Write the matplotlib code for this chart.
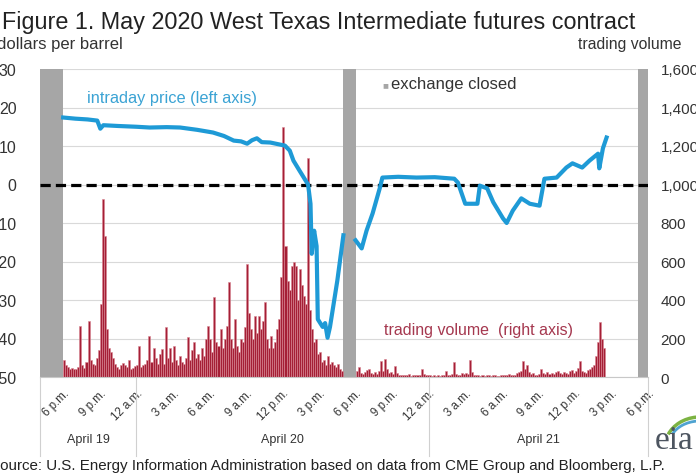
import matplotlib
matplotlib.use("Agg")
import matplotlib.pyplot as plt
import matplotlib.transforms as mtransforms
from matplotlib.patches import Arc
import numpy as np

plt.rcParams['font.family'] = ['Liberation Sans', 'DejaVu Sans']
plt.rcParams['axes.unicode_minus'] = False

# hours counted from April 19, 00:00
price_hours = [18.0, 19.0, 20.0, 20.8, 21.05, 21.3, 22.5, 24.0, 25.1, 26.5, 27.6, 29.0,
               30.3, 31.2, 32.0, 32.6, 33.1, 33.5, 33.9, 34.3, 35.0, 35.6, 36.2, 36.6,
               36.9, 37.4, 38.1, 38.3, 38.4, 38.6, 38.8, 38.9, 39.3, 39.5, 39.7, 39.9,
               40.5, 41.0, 41.5, 42.0, 42.5, 42.9, 43.4, 44.0, 44.2, 45.5, 47.0, 48.5,
               50.1, 50.4, 51.0, 52.0, 52.2, 52.8, 53.3, 54.1, 54.4, 54.9, 55.6, 56.3,
               57.1, 57.5, 58.5, 59.3, 59.8, 60.6, 61.2, 61.9, 62.0, 62.3, 62.6]
price = [17.4, 17.1, 16.9, 16.6, 14.5, 15.4, 15.2, 15.0, 14.8, 14.9, 14.8, 14.2,
         13.5, 12.6, 11.4, 11.2, 10.6, 11.5, 12.0, 11.0, 10.9, 10.5, 10.1, 8.8,
         6.2, 3.6, 0.0, -5.0, -18.0, -12.0, -16.0, -35.0, -37.0, -36.0, -39.8, -37.0,
         -25.0, -13.2, np.nan, -14.5, -16.6, -12.0, -7.5, -0.8, 1.8, 2.0, 1.8, 1.9,
         1.5, 0.5, -5.0, -5.0, -0.3, -1.0, -4.6, -8.8, -10.0, -6.8, -3.6, -5.0,
         -5.5, 1.5, 1.8, 4.4, 5.5, 4.4, 6.2, 8.0, 4.2, 9.4, 12.2]

# trading volume, 10-minute buckets, one row per hour
vol_start_1 = 18.0   # 6 p.m. April 19 to 5 p.m. April 20
vol_session_1 = [
    90, 60, 50, 40, 45, 40,
    40, 50, 265, 60, 45, 80,
    290, 90, 70, 60, 100, 140,
    380, 925, 730, 250, 150, 130,
    100, 70, 50, 40, 60, 75,
    60, 50, 90, 40, 45, 55,
    60, 160, 50, 60, 70, 90,
    213, 80, 150, 100, 70, 120,
    145, 70, 260, 100, 150, 80,
    160, 90, 60, 110, 80, 70,
    100, 208, 90, 140, 180, 100,
    120, 90, 150, 110, 200, 265,
    200, 130, 415, 180, 160, 250,
    150, 200, 265, 493, 200, 150,
    300, 160, 130, 200, 180, 260,
    587, 330, 250, 200, 317, 230,
    317, 250, 290, 390, 200, 150,
    213, 150, 180, 250, 300, 520,
    1300, 680, 500, 450, 577, 600,
    577, 400, 561, 480, 420, 380,
    1140, 350, 250, 180, 200, 120,
    130, 80, 90, 60, 110, 70,
    80, 60, 50, 70, 40, 30,
]
vol_start_2 = 42.0   # 6 p.m. April 20 onwards
vol_session_2 = [
    30, 52, 20, 15, 25, 35,
    42, 20, 15, 25, 18, 30,
    83, 30, 94, 40, 20, 25,
    15, 57, 20, 10, 12, 8,
    10, 8, 15, 6, 10, 8,
    12, 10, 42, 15, 8, 10,
    8, 6, 10, 5, 8, 6,
    10, 8, 31, 12, 10, 15,
    78, 15, 10, 12, 20, 15,
    20, 15, 88, 25, 12, 10,
    8, 6, 10, 5, 8, 10,
    6, 8, 10, 5, 6, 8,
    10, 8, 12, 15, 10, 8,
    12, 20, 25, 30, 83, 40,
    60, 25, 15, 20, 10, 12,
    15, 42, 20, 18, 25, 15,
    20, 15, 25, 30, 20, 15,
    25, 20, 15, 30, 35, 20,
    30, 45, 83, 30, 25, 20,
    35, 40, 50, 60, 110, 180,
    285, 200, 150,
]

closed_periods = [(16.1, 18.0), (41.0, 42.0), (65.15, 66.0)]
price_ticks = [30, 20, 10, 0, -10, -20, -30, -40, -50]
volume_ticks = [1600, 1400, 1200, 1000, 800, 600, 400, 200, 0]
tick_hours = list(range(18, 67, 3))
tick_names = ["6 p.m.", "9 p.m.", "12 a.m.", "3 a.m.", "6 a.m.", "9 a.m.", "12 p.m.", "3 p.m."]
day_names = ["April 19", "April 20", "April 21"]
day_centers = [20.05, 36.0, 57.0]
day_edges = [16.1, 24.0, 48.0, 66.0]

BLUE = "#1e9ad6"
RED = "#a51f36"
GREY = "#a6a6a6"

fig = plt.figure(figsize=(6.96, 4.77), dpi=100)
ax = fig.add_axes([40 / 696, 1 - 378 / 477, 608 / 696, 308 / 477])
ax2 = ax.twinx()

# volume bars (right axis)
w = 1 / 6
t1 = vol_start_1 + np.arange(len(vol_session_1)) * w
t2 = vol_start_2 + np.arange(len(vol_session_2)) * w
ax.bar(t1, vol_session_1, width=w, align='edge', color=RED, edgecolor="#d98894",
       linewidth=0.4, zorder=2)
ax.bar(t2, vol_session_2, width=w, align='edge', color=RED, edgecolor="#d98894",
       linewidth=0.4, zorder=2)
for a, b in closed_periods:
    ax.axvspan(a, b, color=GREY, lw=0, zorder=1)

ax.set_xlim(16.1, 66.0)
ax.set_ylim(0, 1600)
ax.yaxis.tick_right()
ax.set_yticks(volume_ticks)
ax.set_yticklabels([f"{v:,}" for v in volume_ticks])
ax.tick_params(axis='y', length=0, pad=9, labelsize=11, labelcolor="#333333")
ax.grid(axis='y', color="#d9d9d9", lw=0.8)
ax.set_axisbelow(True)
for s in ['top', 'left', 'right']:
    ax.spines[s].set_visible(False)
ax.spines['bottom'].set_color("#c8c8c8")

ax.set_xticks(tick_hours)
ax.set_xticklabels([tick_names[i % 8] for i in range(len(tick_hours))],
                   rotation=45, ha='right', va='top', rotation_mode='anchor')
ax.tick_params(axis='x', length=0, pad=7, labelsize=8.3, labelcolor="#333333")

# price line (left axis)
ax2.plot(price_hours, price, color=BLUE, lw=3, zorder=4, solid_joinstyle='round')
ax2.axhline(0, color='black', lw=2.3, ls=(0, (3.2, 1.6)), zorder=3)
ax2.set_ylim(-50, 30)
ax2.yaxis.tick_left()
ax2.set_yticks(price_ticks)
ax2.set_yticklabels([str(v) for v in price_ticks])
ax2.tick_params(axis='y', length=0, pad=17, labelsize=11.5, labelcolor="#333333")
ax2.tick_params(axis='x', which='both', bottom=False, labelbottom=False)
for s in ax2.spines.values():
    s.set_visible(False)

# day groups below the time axis
trans = mtransforms.blended_transform_factory(ax.transData, ax.transAxes)
for name, c in zip(day_names, day_centers):
    ax.text(c, -0.2, name, transform=trans, ha='center', va='center',
            fontsize=9, color="#333333")
for e in day_edges:
    ax.plot([e, e], [0, -0.258], transform=trans, color="#d0d0d0", lw=0.8,
            clip_on=False)

# annotations
ax.text(0.078, 0.907, "intraday price (left axis)", transform=ax.transAxes,
        color="#3ba3d4", fontsize=11.8, va='center')
ax.text(0.565, 0.155, "trading volume  (right axis)", transform=ax.transAxes,
        color="#a5384f", fontsize=11.5, va='center')
fig.text(382 / 696, 1 - 85 / 477, "\u25a0", color=GREY, fontsize=7, va='center')
fig.text(391 / 696, 1 - 85 / 477, "exchange closed", color="#333333", fontsize=12,
         va='center')

fig.text(2 / 696, 1 - 22 / 477, "Figure 1. May 2020 West Texas Intermediate futures contract",
         fontsize=16.8, color="#222222", va='center')
fig.text(-3 / 696, 1 - 45 / 477, "dollars per barrel", fontsize=12, color="#333333",
         va='center')
fig.text(682 / 696, 1 - 45 / 477, "trading volume", fontsize=11.3, color="#333333",
         va='center', ha='right')
fig.text(-10 / 696, 1 - 466 / 477,
         "Source: U.S. Energy Information Administration based on data from CME Group and Bloomberg, L.P.",
         fontsize=10.9, color="#222222", va='center')

# eia logo
fig.text(655 / 696, 1 - 441 / 477, "eia", family=['Liberation Serif', 'DejaVu Serif'],
         fontsize=24, color="#4d5560", va='center')
fig.add_artist(Arc((700 / 696, 1 - 448 / 477), 70 / 696, 60 / 477, theta1=95, theta2=150,
                   transform=fig.transFigure, color="#7cb342", lw=2.5))
fig.add_artist(Arc((700 / 696, 1 - 446 / 477), 62 / 696, 48 / 477, theta1=95, theta2=150,
                   transform=fig.transFigure, color="#4fa3d1", lw=2))

fig.savefig("out.png", dpi=100)
